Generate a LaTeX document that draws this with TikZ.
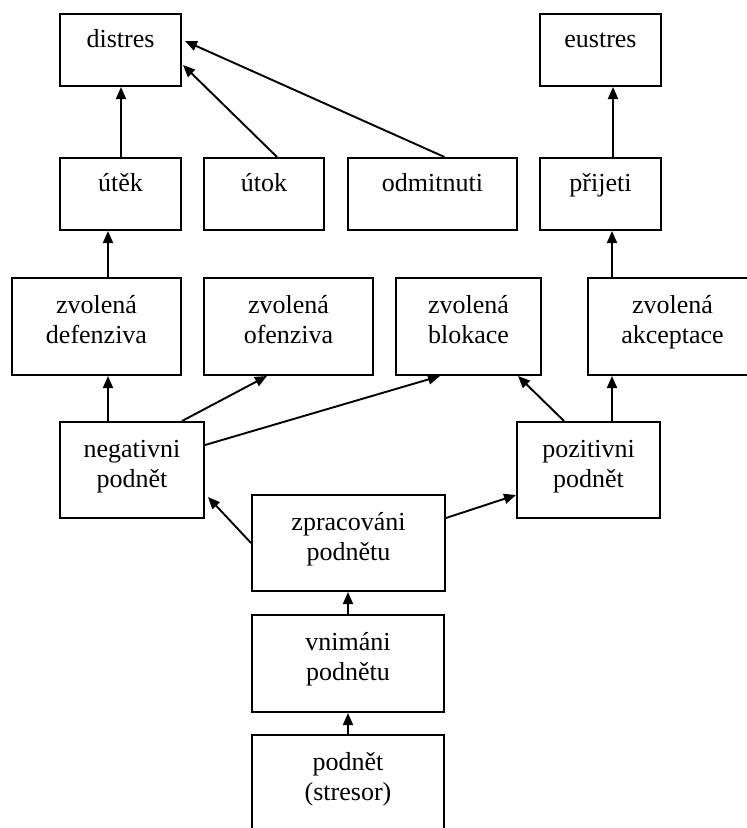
\documentclass[tikz,border=0pt]{standalone}
\usepackage{fontspec}
\setmainfont{Liberation Serif}
\usetikzlibrary{arrows.meta}

% centred stack of lines whose baseline is that of the first line
\newcommand{\stacklines}[1]{\begin{tabular}[t]{@{}c@{}}#1\end{tabular}}

\tikzset{
  box/.style={draw, line width=2pt, inner sep=0pt, align=center,
    font=\fontsize{26}{30}\selectfont},
  onerow/.style={box, text height=33pt, text depth=39pt},
  tworow/.style={box, text height=35pt, text depth=62pt},
  arr/.style={line width=1.9pt, -{Triangle[length=12pt,width=10pt]}}
}

\begin{document}
\begin{tikzpicture}[x=1pt, y=-1pt]
\clip (0,0) rectangle (747,828);
\fill[white] (0,0) rectangle (747,828);

% top row: outcomes
\node[onerow, minimum width=121pt] (distres) at (120.5,50) {\stacklines{distres}};
\node[onerow, minimum width=121pt] (eustres) at (600.5,50) {\stacklines{eustres}};

% reactions
\node[onerow, minimum width=121pt] (utek)    at (120.5,194) {\stacklines{útěk}};
\node[onerow, minimum width=120pt] (utok)    at (264,194)   {\stacklines{útok}};
\node[onerow, minimum width=169pt] (odmit)   at (432.5,194) {\stacklines{odmitnuti}};
\node[onerow, minimum width=121pt] (prijeti) at (600.5,194) {\stacklines{přijeti}};

% chosen strategies
\node[tworow, minimum width=169pt] (defenz) at (96.5,326.5)  {\stacklines{zvolená\\defenziva}};
\node[tworow, minimum width=169pt] (ofenz)  at (288.5,326.5) {\stacklines{zvolená\\ofenziva}};
\node[tworow, minimum width=145pt] (blok)   at (468.5,326.5) {\stacklines{zvolená\\blokace}};
\node[tworow, minimum width=169pt] (akcept) at (672.5,326.5) {\stacklines{zvolená\\akceptace}};

% evaluated stimulus
\node[tworow, minimum width=144pt, text depth=61pt] (negat) at (132,470)   {\stacklines{negativni\\podnět}};
\node[tworow, minimum width=143pt, text depth=61pt] (pozit) at (588.5,470) {\stacklines{pozitivni\\podnět}};

% processing chain
\node[tworow, minimum width=193pt, text depth=61pt] (zprac)  at (348.5,543) {\stacklines{zpracováni\\podnětu}};
\node[tworow, minimum width=192pt] (vnim)   at (348,663.5) {\stacklines{vnimáni\\podnětu}};
\node[tworow, minimum width=192pt] (podnet) at (348,783.5) {\stacklines{podnět\\(stresor)}};

% connectors
\draw[arr] (podnet.north) -- (vnim.south);
\draw[arr] (vnim.north) -- ([xshift=-0.5pt]zprac.south);
\draw[arr] (zprac.west) -- ([shift={(3pt,22pt)}]negat.south east);
\draw[arr] ([yshift=25pt]zprac.east) -- ([yshift=-25pt]pozit.west);

\draw[arr] ([xshift=-24pt]negat.north) -- ([xshift=11.5pt]defenz.south);
\draw[arr] ([xshift=50pt]negat.north) -- ([xshift=-21.5pt]ofenz.south);
\draw[arr] ([yshift=25pt]negat.east) -- ([xshift=-28.5pt]blok.south);
\draw[arr] ([xshift=-24.5pt]pozit.north) -- ([xshift=49.5pt]blok.south);
\draw[arr] ([xshift=23.5pt]pozit.north) -- ([xshift=-60.5pt]akcept.south);

\draw[arr] ([xshift=11.5pt]defenz.north) -- ([xshift=-12.5pt]utek.south);
\draw[arr] ([xshift=-60.5pt]akcept.north) -- ([xshift=11.5pt]prijeti.south);

\draw[arr] ([xshift=0.5pt]utek.north) -- ([xshift=0.5pt]distres.south);
\draw[arr] ([xshift=13pt]utok.north) -- ([shift={(1pt,-15pt)}]distres.east);
\draw[arr] ([xshift=12pt]odmit.north) -- ([shift={(3pt,9pt)}]distres.east);
\draw[arr] ([xshift=12.5pt]prijeti.north) -- ([xshift=12.5pt]eustres.south);
\end{tikzpicture}
\end{document}
